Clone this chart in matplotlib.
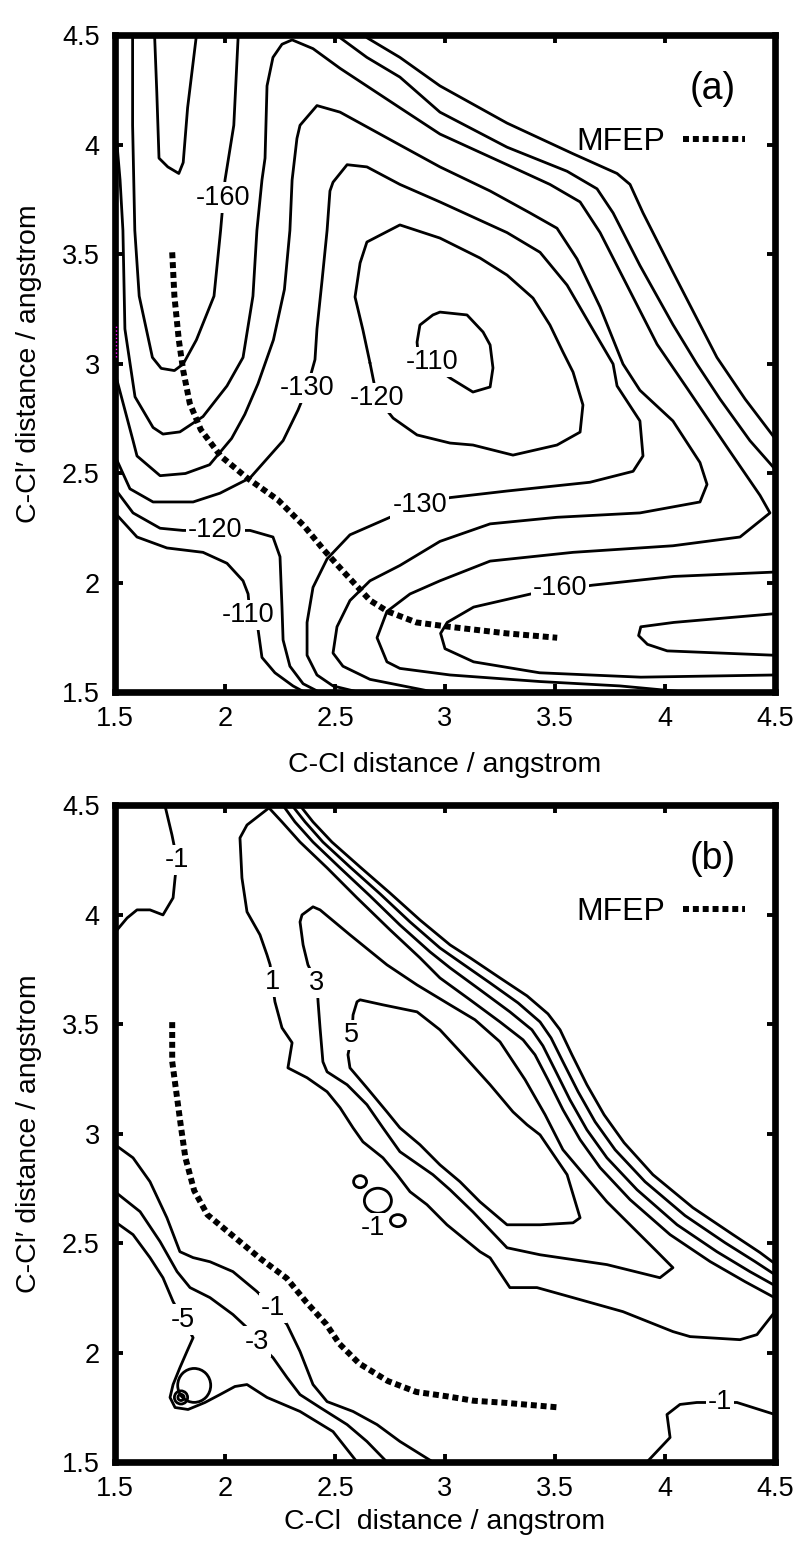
import matplotlib
matplotlib.use("Agg")
import matplotlib.pyplot as plt
from matplotlib.patches import Ellipse

plt.rcParams['font.family'] = ['Liberation Sans', 'DejaVu Sans']
narrow = ['Liberation Sans Narrow', 'Liberation Sans', 'DejaVu Sans']

ticks = [1.5, 2.0, 2.5, 3.0, 3.5, 4.0, 4.5]
tick_labels = ['1.5', '2', '2.5', '3', '3.5', '4', '4.5']

# minimum free energy path, (C-Cl, C-Cl') in angstrom
mfep_a = [(1.76, 3.51), (1.77, 3.31), (1.79, 3.11), (1.81, 2.97), (1.84, 2.82),
          (1.89, 2.70), (1.98, 2.58), (2.10, 2.48), (2.24, 2.38), (2.36, 2.26),
          (2.45, 2.15), (2.54, 2.05), (2.66, 1.92), (2.74, 1.87), (2.87, 1.82),
          (3.02, 1.80), (3.28, 1.77), (3.51, 1.75)]
mfep_b = [(1.76, 3.51), (1.76, 3.33), (1.78, 3.18), (1.80, 3.03), (1.82, 2.89),
          (1.86, 2.74), (1.92, 2.63), (2.04, 2.53), (2.16, 2.43), (2.28, 2.34),
          (2.37, 2.23), (2.46, 2.13), (2.52, 2.04), (2.61, 1.95), (2.74, 1.87),
          (2.87, 1.82), (3.01, 1.80), (3.13, 1.78), (3.28, 1.77), (3.51, 1.75)]

# ---- panel (a) contour lines
a_m170_left = [(1.68, 4.5), (1.69, 4.24), (1.70, 3.94), (1.74, 3.90), (1.79, 3.87),
               (1.81, 3.92), (1.83, 4.17), (1.87, 4.5)]
a_m170_bottom = [(4.5, 1.86), (4.04, 1.82), (3.89, 1.80), (3.88, 1.76), (3.92, 1.72),
                 (4.01, 1.69), (4.5, 1.67)]
a_m170_diag = [(2.645, 4.49), (2.795, 4.40), (2.977, 4.27), (3.282, 4.10), (3.582, 3.96),
               (3.782, 3.87), (3.841, 3.82), (3.90, 3.69), (4.036, 3.42), (4.236, 3.03),
               (4.364, 2.84), (4.5, 2.66)]
a_m160_left = [(1.58, 4.5), (1.58, 4.09), (1.59, 3.61), (1.61, 3.31), (1.67, 3.03),
               (1.71, 2.98), (1.77, 2.97), (1.81, 3.0), (1.87, 3.11), (1.95, 3.31),
               (1.98, 3.61), (2.0, 3.84), (2.04, 4.09), (2.06, 4.5)]
a_m160_bottom = [(4.5, 2.05), (4.04, 2.03), (3.67, 1.99), (3.39, 1.95), (3.13, 1.89),
                 (3.01, 1.82), (2.98, 1.77), (3.0, 1.70), (3.13, 1.64), (3.43, 1.59),
                 (3.89, 1.57), (4.5, 1.58)]
a_m160_diag = [(2.523, 4.49), (2.645, 4.40), (2.795, 4.31), (2.977, 4.15), (3.282, 3.99),
               (3.555, 3.88), (3.691, 3.80), (3.764, 3.69), (3.886, 3.45), (4.036, 3.18),
               (4.145, 3.0), (4.25, 2.84), (4.386, 2.65), (4.5, 2.52)]
a_m150 = [(1.5, 4.11), (1.523, 3.84), (1.536, 3.61), (1.545, 3.16), (1.591, 2.85),
          (1.673, 2.71), (1.718, 2.68), (1.795, 2.69), (1.90, 2.76), (2.009, 2.90),
          (2.082, 3.03), (2.127, 3.31), (2.145, 3.61), (2.168, 3.84), (2.182, 3.94),
          (2.191, 4.27), (2.218, 4.40), (2.259, 4.46), (2.305, 4.48), (2.40, 4.44),
          (2.523, 4.35), (2.795, 4.17), (2.977, 4.05), (3.282, 3.91), (3.477, 3.82),
          (3.614, 3.74), (3.705, 3.60), (3.827, 3.36), (3.964, 3.09), (4.10, 2.89),
          (4.282, 2.62), (4.432, 2.40), (4.477, 2.32), (4.341, 2.21), (4.036, 2.17),
          (3.582, 2.14), (3.205, 2.10), (2.977, 2.01), (2.841, 1.95), (2.736, 1.87),
          (2.691, 1.75), (2.736, 1.64), (2.795, 1.61), (3.023, 1.58), (3.432, 1.55),
          (3.795, 1.53), (4.114, 1.5)]
a_m140 = [(1.5, 2.96), (1.545, 2.79), (1.582, 2.65), (1.60, 2.58), (1.705, 2.49),
          (1.82, 2.50), (1.93, 2.54), (2.03, 2.66), (2.09, 2.77), (2.15, 2.91),
          (2.22, 3.11), (2.27, 3.34), (2.295, 3.61), (2.305, 3.84), (2.327, 4.03),
          (2.341, 4.09), (2.418, 4.18), (2.523, 4.15), (2.795, 4.0), (2.977, 3.90),
          (3.205, 3.79), (3.386, 3.69), (3.509, 3.62), (3.60, 3.48), (3.705, 3.26),
          (3.809, 3.0), (3.886, 2.88), (4.036, 2.74), (4.159, 2.55), (4.191, 2.45),
          (4.159, 2.37), (3.886, 2.32), (3.509, 2.30), (3.205, 2.27), (2.977, 2.19),
          (2.795, 2.08), (2.659, 2.01), (2.568, 1.92), (2.509, 1.80), (2.491, 1.68),
          (2.536, 1.62), (2.659, 1.56), (2.96, 1.5)]
a_m130 = [(1.5, 2.58), (1.568, 2.43), (1.673, 2.37), (1.855, 2.37), (1.977, 2.41),
          (2.114, 2.48), (2.264, 2.65), (2.332, 2.79), (2.373, 2.89), (2.409, 3.02),
          (2.418, 3.16), (2.441, 3.38), (2.464, 3.61), (2.477, 3.79), (2.491, 3.83),
          (2.555, 3.91), (2.645, 3.90), (2.795, 3.82), (2.977, 3.74), (3.282, 3.60),
          (3.432, 3.51), (3.555, 3.36), (3.659, 3.18), (3.764, 3.0), (3.782, 2.90),
          (3.886, 2.74), (3.90, 2.58), (3.855, 2.51), (3.659, 2.46), (3.282, 2.42),
          (3.023, 2.39), (2.886, 2.36), (2.75, 2.30), (2.568, 2.22), (2.464, 2.11),
          (2.40, 1.98), (2.373, 1.82), (2.373, 1.67), (2.418, 1.58), (2.491, 1.53),
          (2.614, 1.5)]
a_m120_loop = [(2.659, 3.005), (2.691, 2.845), (2.764, 2.753), (2.873, 2.676), (3.023, 2.639),
               (3.127, 2.630), (3.309, 2.584), (3.509, 2.630), (3.614, 2.689), (3.627, 2.813),
               (3.582, 2.963), (3.536, 3.055), (3.477, 3.178), (3.40, 3.301), (3.282, 3.406),
               (3.159, 3.484), (2.977, 3.575), (2.795, 3.635), (2.645, 3.557), (2.614, 3.461),
               (2.591, 3.306), (2.627, 3.155), (2.659, 3.005)]
a_m110_loop = [(2.955, 2.986), (3.023, 2.936), (3.127, 2.872), (3.205, 2.895), (3.218, 2.982),
               (3.205, 3.087), (3.173, 3.146), (3.10, 3.224), (2.977, 3.237), (2.945, 3.224),
               (2.886, 3.178), (2.873, 3.10), (2.877, 3.055), (2.955, 2.986)]
a_m120_corner = [(1.5, 2.43), (1.582, 2.32), (1.705, 2.25), (1.809, 2.24), (1.955, 2.24),
                 (2.114, 2.24), (2.218, 2.21), (2.25, 2.12), (2.259, 1.89), (2.264, 1.74),
                 (2.295, 1.62), (2.355, 1.54), (2.432, 1.5)]
a_m110_corner = [(1.5, 2.32), (1.60, 2.21), (1.736, 2.16), (1.90, 2.14), (2.009, 2.09),
                 (2.082, 2.01), (2.105, 1.95), (2.114, 1.85), (2.15, 1.79), (2.168, 1.66),
                 (2.227, 1.59), (2.309, 1.53), (2.364, 1.5)]
a_lines = [a_m170_left, a_m170_bottom, a_m170_diag, a_m160_left, a_m160_bottom,
           a_m160_diag, a_m150, a_m140, a_m130, a_m120_loop, a_m110_loop,
           a_m120_corner, a_m110_corner]
a_labels = [("-160", 1.99, 3.76), ("-130", 2.373, 2.89), ("-120", 2.691, 2.845),
            ("-110", 2.941, 3.01), ("-130", 2.886, 2.356), ("-120", 1.955, 2.242),
            ("-110", 2.105, 1.854), ("-160", 3.523, 1.977)]
a_stray = [(1.505, 3.03), (1.505, 3.18)]

# ---- panel (b) contour lines
b_m1_topleft = [(1.727, 4.5), (1.759, 4.365), (1.782, 4.251), (1.773, 4.169), (1.764, 4.078),
                (1.718, 4.0), (1.659, 4.023), (1.60, 4.023), (1.555, 3.986), (1.5, 3.92)]
b_p1 = [(4.5, 2.25), (4.364, 2.324), (4.205, 2.416), (4.023, 2.539), (3.841, 2.699),
        (3.705, 2.845), (3.614, 2.973), (3.536, 3.11), (3.468, 3.247), (3.409, 3.361),
        (3.355, 3.429), (3.25, 3.511), (3.114, 3.612), (2.977, 3.712), (2.886, 3.804),
        (2.75, 3.932), (2.60, 4.078), (2.464, 4.215), (2.341, 4.333), (2.259, 4.425),
        (2.20, 4.489), (2.10, 4.411), (2.068, 4.352), (2.077, 4.169), (2.10, 4.014),
        (2.159, 3.909), (2.191, 3.817), (2.205, 3.772), (2.214, 3.694), (2.227, 3.603),
        (2.259, 3.484), (2.305, 3.416), (2.286, 3.301), (2.373, 3.256), (2.464, 3.192),
        (2.523, 3.119), (2.582, 3.027), (2.627, 2.963), (2.718, 2.890), (2.782, 2.813),
        (2.841, 2.735), (2.918, 2.676), (3.009, 2.584), (3.159, 2.461), (3.205, 2.433),
        (3.295, 2.297), (3.418, 2.297), (3.582, 2.251), (3.809, 2.187), (4.036, 2.096),
        (4.114, 2.073), (4.341, 2.059), (4.418, 2.082), (4.5, 2.187)]
b_band1 = [(2.264, 4.5), (2.318, 4.425), (2.40, 4.333), (2.523, 4.215), (2.659, 4.087),
           (2.795, 3.954), (2.932, 3.831), (3.023, 3.758), (3.159, 3.658), (3.295, 3.557),
           (3.395, 3.475), (3.445, 3.402), (3.50, 3.292), (3.568, 3.155), (3.645, 3.018),
           (3.736, 2.890), (3.873, 2.744), (4.055, 2.584), (4.236, 2.461), (4.386, 2.370),
           (4.5, 2.306)]
b_band2 = [(2.305, 4.5), (2.364, 4.425), (2.445, 4.333), (2.568, 4.219), (2.705, 4.096),
           (2.841, 3.968), (2.977, 3.849), (3.068, 3.785), (3.205, 3.689), (3.332, 3.598),
           (3.432, 3.511), (3.482, 3.438), (3.536, 3.329), (3.605, 3.192), (3.682, 3.055),
           (3.773, 2.927), (3.909, 2.781), (4.091, 2.626), (4.273, 2.502), (4.409, 2.416),
           (4.5, 2.356)]
b_band3 = [(2.341, 4.5), (2.40, 4.425), (2.486, 4.333), (2.614, 4.219), (2.75, 4.10),
           (2.886, 3.977), (3.023, 3.863), (3.114, 3.804), (3.25, 3.712), (3.373, 3.63),
           (3.468, 3.548), (3.523, 3.475), (3.577, 3.361), (3.645, 3.224), (3.723, 3.087),
           (3.814, 2.959), (3.945, 2.813), (4.127, 2.662), (4.309, 2.539), (4.432, 2.457),
           (4.5, 2.406)]
b_p3 = [(2.418, 3.689), (2.423, 3.603), (2.432, 3.484), (2.445, 3.329), (2.464, 3.283),
        (2.555, 3.224), (2.645, 3.133), (2.718, 3.027), (2.795, 2.918), (2.945, 2.813),
        (3.023, 2.744), (3.127, 2.643), (3.282, 2.479), (3.432, 2.447), (3.736, 2.402),
        (3.977, 2.342), (4.036, 2.388), (3.964, 2.461), (3.736, 2.689), (3.536, 2.927),
        (3.455, 3.087), (3.364, 3.247), (3.25, 3.42), (3.136, 3.521), (3.023, 3.589),
        (2.873, 3.68), (2.736, 3.772), (2.568, 3.909), (2.432, 4.023), (2.40, 4.037),
        (2.35, 4.0), (2.341, 3.968), (2.355, 3.863), (2.377, 3.772), (2.418, 3.689)]
b_p5 = [(2.577, 3.452), (2.559, 3.361), (2.568, 3.301), (2.645, 3.210), (2.736, 3.10),
        (2.795, 3.027), (2.886, 2.95), (2.977, 2.858), (3.068, 2.781), (3.159, 2.689),
        (3.282, 2.584), (3.432, 2.584), (3.582, 2.593), (3.614, 2.616), (3.555, 2.813),
        (3.432, 2.995), (3.373, 3.041), (3.309, 3.10), (3.205, 3.224), (3.082, 3.361),
        (2.977, 3.475), (2.873, 3.557), (2.718, 3.589), (2.614, 3.612), (2.60, 3.603),
        (2.582, 3.543), (2.577, 3.452)]
b_m1_lower = [(1.5, 2.950), (1.582, 2.890), (1.659, 2.781), (1.736, 2.616), (1.795, 2.461),
              (1.855, 2.434), (1.932, 2.415), (2.036, 2.370), (2.145, 2.279), (2.218, 2.205),
              (2.282, 2.128), (2.341, 2.005), (2.40, 1.854), (2.464, 1.776), (2.582, 1.731),
              (2.691, 1.671), (2.795, 1.594), (2.945, 1.5)]
b_m3 = [(1.5, 2.735), (1.614, 2.644), (1.705, 2.507), (1.782, 2.370), (1.841, 2.297),
        (1.932, 2.251), (2.036, 2.174), (2.10, 2.114), (2.145, 2.050), (2.218, 1.977),
        (2.282, 1.886), (2.341, 1.808), (2.432, 1.749), (2.555, 1.671), (2.645, 1.594),
        (2.736, 1.5)]
b_m5 = [(1.5, 2.598), (1.582, 2.539), (1.659, 2.434), (1.718, 2.342), (1.764, 2.233),
        (1.809, 2.151), (1.855, 2.068), (1.827, 2.005), (1.795, 1.931), (1.764, 1.854),
        (1.75, 1.795), (1.773, 1.749), (1.832, 1.740), (1.909, 1.772), (1.977, 1.808),
        (2.045, 1.845), (2.10, 1.854), (2.191, 1.795), (2.341, 1.731), (2.491, 1.639),
        (2.60, 1.5)]
b_m1_right = [(3.918, 1.5), (4.023, 1.612), (4.009, 1.717), (4.068, 1.763), (4.145, 1.772),
              (4.236, 1.772), (4.327, 1.772), (4.5, 1.717)]
b_lines = [b_m1_topleft, b_p1, b_band1, b_band2, b_band3, b_p3, b_p5,
           b_m1_lower, b_m3, b_m5, b_m1_right]
# small closed loops: (x, y, width, height)
b_loops = [(2.614, 2.781, 0.059, 0.055), (2.695, 2.694, 0.123, 0.114),
           (2.786, 2.603, 0.068, 0.055), (1.86, 1.85, 0.15, 0.155),
           (1.80, 1.795, 0.06, 0.06), (1.80, 1.795, 0.028, 0.028)]
b_labels = [("-1", 1.782, 4.251), ("1", 2.214, 3.694), ("3", 2.418, 3.689),
            ("5", 2.577, 3.452), ("-1", 2.673, 2.57), ("-5", 1.809, 2.151),
            ("-1", 2.218, 2.205), ("-3", 2.145, 2.050), ("-1", 4.25, 1.776)]


def draw_panel(ax, lines, labels, path, tag, xlabel, xpad):
    for ln in lines:
        xs = [p[0] for p in ln]
        ys = [p[1] for p in ln]
        ax.plot(xs, ys, color='black', lw=2.0, zorder=2,
                solid_joinstyle='round', solid_capstyle='round')
    for txt, x, y in labels:
        ax.text(x, y, txt, fontsize=19.5, ha='center', va='center', zorder=3,
                bbox=dict(facecolor='white', edgecolor='none', pad=1.5))
    ax.plot([p[0] for p in path], [p[1] for p in path], color='black', lw=4.3,
            linestyle=(0, (1.0, 0.65)), dash_capstyle='butt', zorder=4, label='MFEP')
    ax.legend(loc='center right', bbox_to_anchor=(0.955, 0.838), frameon=False,
              markerfirst=False, fontsize=23, handlelength=1.95, handletextpad=0.55,
              borderpad=0, borderaxespad=0)
    ax.text(0.905, 0.918, tag, transform=ax.transAxes, fontsize=27,
            ha='center', va='center')
    ax.set_xlim(1.5, 4.5)
    ax.set_ylim(1.5, 4.5)
    ax.set_xticks(ticks)
    ax.set_yticks(ticks)
    ax.set_xticklabels(tick_labels, family=narrow, fontsize=19.5)
    ax.set_yticklabels(tick_labels, family=narrow, fontsize=19.5)
    ax.tick_params(direction='in', top=True, right=True, length=6, width=2.8)
    ax.tick_params(axis='x', pad=10)
    ax.tick_params(axis='y', pad=11)
    for s in ax.spines.values():
        s.set_linewidth(4.8)
    ax.set_xlabel(xlabel, family=narrow, fontsize=20.5, labelpad=xpad)
    ax.set_ylabel("C-Cl\u2032 distance / angstrom", family=narrow, fontsize=20.5,
                  labelpad=14)


fig = plt.figure(figsize=(8.05, 15.42), dpi=100)
ax_a = fig.add_axes([0.14286, 0.55091, 0.81988, 0.42607])
ax_b = fig.add_axes([0.14286, 0.05188, 0.81988, 0.42575])

draw_panel(ax_a, a_lines, a_labels, mfep_a, "(a)", "C-Cl distance / angstrom", 14)
ax_a.plot([p[0] for p in a_stray], [p[1] for p in a_stray], color='magenta',
          lw=1, linestyle=':', zorder=5)

draw_panel(ax_b, b_lines, b_labels, mfep_b, "(b)", "C-Cl  distance / angstrom", 5)
for x, y, w, h in b_loops:
    ax_b.add_patch(Ellipse((x, y), w, h, fill=False, edgecolor='black', lw=2.0, zorder=2))

fig.savefig("out.png", dpi=100)
